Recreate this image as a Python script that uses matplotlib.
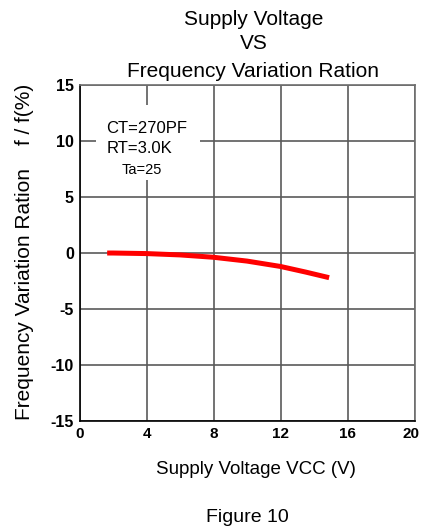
import matplotlib
matplotlib.use('Agg')
import matplotlib.pyplot as plt
from matplotlib.patches import Rectangle
from matplotlib.transforms import ScaledTranslation

plt.rcParams['font.family'] = ['Liberation Sans', 'DejaVu Sans']
plt.rcParams['axes.unicode_minus'] = False

# Supply voltage (V) vs frequency variation (%)
vcc = [1.65, 2, 4, 6, 8, 10, 12, 13.5, 14.9]
variation = [0.0, 0.0, -0.05, -0.17, -0.38, -0.72, -1.2, -1.7, -2.2]

x_ticks = [0, 4, 8, 12, 16, 20]
y_ticks = [-15, -10, -5, 0, 5, 10, 15]

fig = plt.figure(figsize=(4.23, 5.31), dpi=100)
ax = fig.add_axes([0.188, 0.207, 0.792, 0.633])

ax.plot(vcc, variation, color='#ff0000', linewidth=3.6, solid_capstyle='butt', zorder=3)

ax.set_xlim(0, 20)
ax.set_ylim(-15, 15)
ax.set_xticks(x_ticks)
ax.set_yticks(y_ticks)
ax.tick_params(axis='y', length=0, labelsize=11.5, pad=4)
ax.tick_params(axis='x', length=0, labelsize=11, pad=4)
for lbl in ax.get_xticklabels() + ax.get_yticklabels():
    lbl.set_fontweight('bold')
# pull the last x label slightly inward so it stays inside the figure
last = ax.get_xticklabels()[-1]
last.set_transform(last.get_transform() + ScaledTranslation(-4 / 100, 0, fig.dpi_scale_trans))

ax.grid(True, color='#5a5a5a', linewidth=1.2, zorder=0)
ax.set_axisbelow(True)

for side in ['top', 'right']:
    ax.spines[side].set_color('#6e6e6e')
    ax.spines[side].set_linewidth(1.2)
for side in ['left', 'bottom']:
    ax.spines[side].set_color('black')
    ax.spines[side].set_linewidth(1.2)

# condition box (white patch hides the grid behind it)
ax.add_patch(Rectangle((0.98, 6.5), 6.2, 6.7, facecolor='white', edgecolor='none', zorder=2))
ax.text(4, 11.1, 'CT=270PF', ha='center', va='center', fontsize=12, zorder=4)
ax.text(3.6, 9.3, 'RT=3.0K', ha='center', va='center', fontsize=12, zorder=4)
ax.text(3.7, 7.4, 'Ta=25', ha='center', va='center', fontsize=10.5, zorder=4)

fig.text(0.599, 0.964, 'Supply Voltage', ha='center', va='center', fontsize=15)
fig.text(0.599, 0.919, 'VS', ha='center', va='center', fontsize=15)
fig.text(0.599, 0.866, 'Frequency Variation Ration', ha='center', va='center', fontsize=15)
fig.text(0.057, 0.525, 'Frequency Variation Ration    f / f(%)', rotation=90,
         ha='center', va='center', fontsize=15)
fig.text(0.605, 0.115, 'Supply Voltage VCC (V)', ha='center', va='center', fontsize=13.5)
fig.text(0.584, 0.026, 'Figure 10', ha='center', va='center', fontsize=14)

fig.savefig('out.png', dpi=100)
